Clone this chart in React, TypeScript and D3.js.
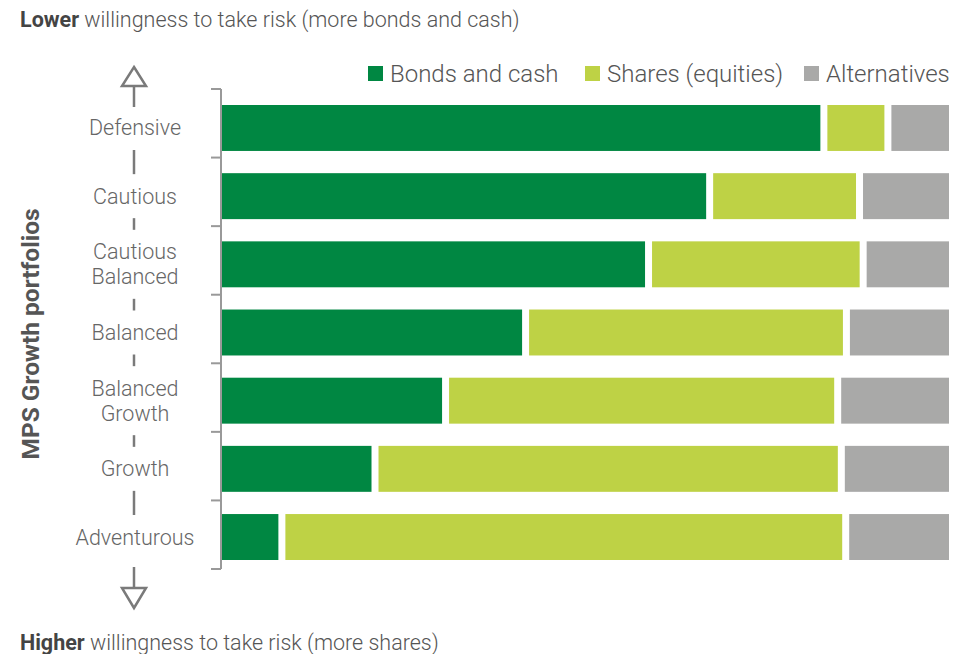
import React from 'react';
import * as d3 from 'd3';

const categories = [
  'Defensive',
  'Cautious',
  'Cautious Balanced',
  'Balanced',
  'Balanced Growth',
  'Growth',
  'Adventurous',
];
const bondsAndCash = [82.8, 67.1, 58.7, 41.8, 30.8, 21.1, 8.3];
const shares = [8.8, 20.6, 29.5, 44.1, 53.9, 64.1, 77.5];
const alternatives = [8.4, 12.3, 11.8, 14.1, 15.3, 14.8, 14.2];
const seriesNames = ['Bonds and cash', 'Shares (equities)', 'Alternatives'];
const seriesColors = ['#008742', '#BED245', '#A9A9A8'];

const W = 973;
const H = 654;
const FONT = 'Roboto, "Noto Sans", sans-serif';

export default function App() {
  const x = d3.scaleLinear().domain([0, 100]).range([221.5, 949]);
  const yAxis = d3.scaleBand<string>().domain(categories).range([89, 569]);
  const yBar = d3
    .scaleBand<string>()
    .domain(categories)
    .range([105, 560])
    .paddingInner(0.326)
    .paddingOuter(0);
  const bh = yBar.bandwidth();
  const gap = 3.5;

  const series = [bondsAndCash, shares, alternatives];
  const rows = categories.map((c, i) => {
    let acc = 0;
    return series.map((s, k) => {
      const x0 = acc;
      acc += s[i];
      return { k, x0, x1: acc };
    });
  });

  const tickYs = [...categories.map((c) => yAxis(c)!), yAxis.range()[1]];
  const axisX = 221;
  const labelX = 134;
  const lineH = 25;

  const labels = categories.map((c) => {
    const lines = c.split(' ');
    const cy = yBar(c)! + bh / 2;
    const half = lines.length === 1 ? 10 : 22.5;
    return { c, lines, cy, top: cy - half, bottom: cy + half };
  });
  const seps = labels.slice(1).map((l, i) => {
    const prev = labels[i];
    return { y1: prev.bottom + 12, y2: l.top - 12 };
  });

  const arrowColor = '#7a7a7a';
  const upTip = 67;
  const upBase = 86;
  const upStemEnd = 107;
  const downStemStart = 567;
  const downBase = 588;
  const downTip = 608;

  const legendSquares = [368, 585, 804];

  return (
    <svg
      width={W}
      height={H}
      style={{ position: 'absolute', left: 0, top: 0, background: '#fff' }}
      fontFamily={FONT}
    >
      <text x={20} y={27} fontSize={21.5} fill="#555" fontWeight={300}>
        <tspan fontWeight={700} fill="#444">Lower</tspan>
        <tspan> willingness to take risk (more bonds and cash)</tspan>
      </text>
      <text x={20} y={650} fontSize={21.5} fill="#555" fontWeight={300}>
        <tspan fontWeight={700} fill="#444">Higher</tspan>
        <tspan> willingness to take risk (more shares)</tspan>
      </text>

      {/* legend */}
      {seriesNames.map((n, k) => (
        <g key={n}>
          <rect x={legendSquares[k]} y={66} width={15} height={15} fill={seriesColors[k]} />
          <text
            x={legendSquares[k] + 22}
            y={82}
            fontSize={24}
            fill="#555"
            fontWeight={300}
          >
            {n}
          </text>
        </g>
      ))}

      {/* y title */}
      <text
        transform="translate(39,334) rotate(-90)"
        textAnchor="middle"
        fontSize={24.5}
        fontWeight={700}
        fill="#555"
      >
        MPS Growth portfolios
      </text>

      {/* bars */}
      {rows.map((segs, i) => (
        <g key={categories[i]}>
          {segs.map((s) => {
            const a = x(s.x0) + (s.k > 0 ? gap : 0);
            const b = x(s.x1) - (s.k < segs.length - 1 ? gap : 0);
            return (
              <rect
                key={s.k}
                x={a}
                y={yBar(categories[i])}
                width={Math.max(0, b - a)}
                height={bh}
                fill={seriesColors[s.k]}
              />
            );
          })}
        </g>
      ))}

      {/* axis */}
      <line x1={axisX} x2={axisX} y1={tickYs[0]} y2={tickYs[tickYs.length - 1]} stroke="#999" strokeWidth={2} />
      {tickYs.map((t, i) => (
        <line key={i} x1={211} x2={axisX} y1={t} y2={t} stroke="#999" strokeWidth={2} />
      ))}

      {/* category labels */}
      {labels.map((l) => (
        <text
          key={l.c}
          x={labelX + 1}
          textAnchor="middle"
          fontSize={21.5}
          fill="#666"
          fontWeight={300}
        >
          {l.lines.map((ln, j) => (
            <tspan
              key={j}
              x={labelX + 1}
              y={l.cy + 7.5 + (j - (l.lines.length - 1) / 2) * lineH}
            >
              {ln}
            </tspan>
          ))}
        </text>
      ))}

      {/* separators */}
      {seps.map((s, i) => (
        <line key={i} x1={labelX} x2={labelX} y1={s.y1} y2={s.y2} stroke={arrowColor} strokeWidth={2.5} />
      ))}

      {/* arrows */}
      <line x1={labelX} x2={labelX} y1={upBase} y2={upStemEnd} stroke={arrowColor} strokeWidth={2.5} />
      <path
        d={`M${labelX},${upTip} L${labelX + 12},${upBase} L${labelX - 12},${upBase} Z`}
        fill="#fff"
        stroke={arrowColor}
        strokeWidth={2.5}
        strokeLinejoin="miter"
      />
      <line x1={labelX} x2={labelX} y1={downStemStart} y2={downBase} stroke={arrowColor} strokeWidth={2.5} />
      <path
        d={`M${labelX},${downTip} L${labelX + 12},${downBase} L${labelX - 12},${downBase} Z`}
        fill="#fff"
        stroke={arrowColor}
        strokeWidth={2.5}
      />
    </svg>
  );
}
